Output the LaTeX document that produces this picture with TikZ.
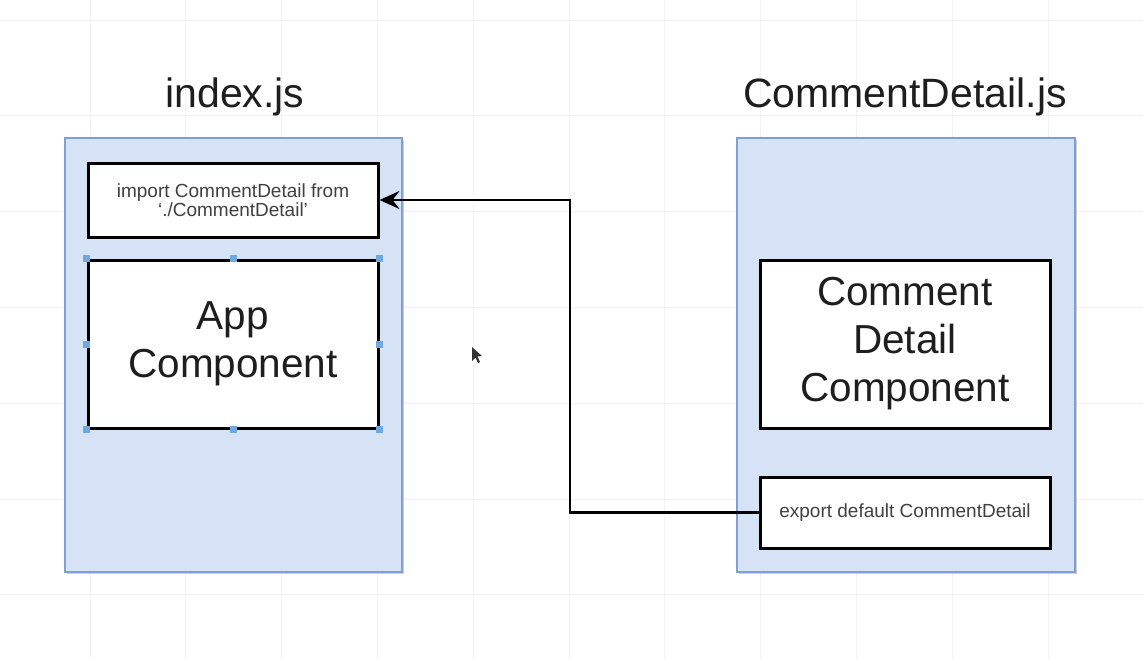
\documentclass[tikz,border=0pt]{standalone}
\usepackage{fontspec}
\setmainfont{Liberation Sans}
\usetikzlibrary{arrows.meta,shadows}
\definecolor{contfill}{RGB}{214,227,247}
\definecolor{contdraw}{RGB}{128,158,212}
\definecolor{gridc}{RGB}{242,242,242}
\definecolor{handlec}{RGB}{110,170,225}
\definecolor{txt}{RGB}{30,30,30}
\tikzset{
  container/.style={rectangle,draw=contdraw,fill=contfill,line width=2pt,inner sep=0pt,
    drop shadow={shadow xshift=2pt,shadow yshift=-2pt,opacity=0.3,fill=black!60}},
  codebox/.style={rectangle,draw=black,fill=white,line width=3pt,inner sep=0pt,
    minimum width=290pt,align=center,text=black!75,
    font=\fontsize{19}{18.5}\selectfont,
    drop shadow={shadow xshift=1.5pt,shadow yshift=-1.5pt,opacity=0.25,fill=black!60}},
  compbox/.style={rectangle,draw=black,fill=white,line width=3pt,inner sep=0pt,
    minimum width=290pt,minimum height=168pt,align=center,text=txt,
    font=\fontsize{40.5}{48}\selectfont,
    drop shadow={shadow xshift=1.5pt,shadow yshift=-1.5pt,opacity=0.25,fill=black!60}},
  title/.style={text=txt,font=\fontsize{41}{46}\selectfont,inner sep=0pt},
  link/.style={draw=black,line width=2.8pt,-{Stealth[length=20pt,width=18pt,inset=7pt]}},
  handle/.style={fill=handlec},
}
\begin{document}
\begin{tikzpicture}[x=1pt,y=-1pt]
\useasboundingbox (0,0) rectangle (1143,659);
\fill[white] (0,0) rectangle (1143,659);
% faint grid
\foreach \gx in {90,185.8,281.6,377.4,473.2,569,664.8,760.6,856.4,952.2,1048}
  \draw[gridc,line width=0.8pt] (\gx,0) -- (\gx,659);
\foreach \gy in {20,115.8,211.6,307.4,403.2,499,594.8}
  \draw[gridc,line width=0.8pt] (0,\gy) -- (1143,\gy);

% titles
\node[title] (t1) at (235,97) {index.js};
\node[title] (t2) at (905,97) {CommentDetail.js};

% containers
\node[container,minimum width=337pt,minimum height=434pt] (left) at (233.5,355) {};
\node[container,minimum width=338pt,minimum height=434pt] (right) at (906,355) {};

% inner boxes
\node[codebox,minimum height=74pt] (import) at (233,200) {import CommentDetail from\\ `./CommentDetail'};
\node[compbox] (app) at (233,344) {App\\Component};
\node[compbox] (cd) at (905,344) {Comment\\Detail\\Component};
\node[codebox,minimum height=71pt] (export) at (905,512.5) {export default CommentDetail};

% selection handles
\foreach \a in {north west,north,north east,west,east,south west,south,south east}
  \fill[handle] (app.\a) ++(-3.5,-3.5) rectangle ++(7,7);

% connector
\coordinate (bend) at (570,0);
\draw[link] (export.west) -| (bend |- import.east) -- (import.east);

% cursor
\fill[black!80] (472,347) -- (472,361) -- (475.5,357.5) -- (478,363) -- (480,362) -- (477.5,356.5) -- (482,356) -- cycle;
\end{tikzpicture}
\end{document}
